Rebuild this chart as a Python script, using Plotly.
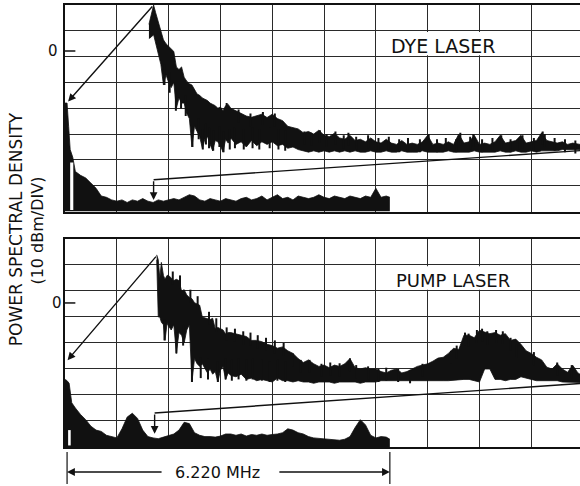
import plotly.graph_objects as go

# ---------------- DATA (in grid divisions) ----------------
# Upper panel: dye laser, wide-span trace (band envelope)
dye_wide_x = [1.62, 1.66, 1.71, 1.75, 1.80, 1.85, 1.90, 1.95, 2.00, 2.05, 2.10, 2.15, 2.20, 2.25,
              2.30, 2.35, 2.40, 2.45, 2.50, 2.55, 2.60, 2.65, 2.70, 2.75, 2.80, 2.85, 2.90, 2.95,
              3.00, 3.05, 3.10, 3.15, 3.20, 3.30, 3.40, 3.50, 3.60, 3.70, 3.80, 3.90, 4.00, 4.10,
              4.20, 4.30, 4.40, 4.50, 4.60, 4.70, 4.80, 4.90, 5.00, 5.10, 5.20, 5.30, 5.40, 5.50,
              5.60, 5.70, 5.80, 5.90, 6.00, 6.10, 6.20, 6.30, 6.40, 6.50, 6.60, 6.70, 6.80, 6.90,
              7.00, 7.10, 7.20, 7.30, 7.40, 7.50, 7.60, 7.70, 7.80, 7.90, 8.00, 8.10, 8.20, 8.30,
              8.40, 8.50, 8.60, 8.70, 8.80, 8.90, 9.00, 9.10, 9.20, 9.30, 9.40, 9.50, 9.60, 9.70,
              9.80, 9.90, 9.94]
dye_wide_top = [7.25, 7.60, 8.00, 7.70, 7.35, 7.10, 6.65, 6.50, 6.40, 6.30, 6.20, 5.60, 5.50, 5.60,
                5.20, 5.05, 4.95, 4.90, 4.70, 4.55, 4.50, 4.40, 4.35, 4.30, 4.20, 4.15, 4.10, 4.00,
                4.05, 3.90, 4.10, 4.15, 4.00, 3.90, 3.80, 3.70, 3.65, 3.70, 3.77, 3.64, 3.77, 3.60,
                3.52, 3.30, 3.26, 3.20, 3.05, 3.10, 3.00, 3.15, 2.95, 2.90, 3.03, 2.85, 2.80, 2.95,
                2.75, 2.80, 2.70, 2.85, 2.70, 2.65, 2.80, 2.65, 2.60, 2.75, 2.60, 2.65, 2.60, 2.70,
                2.95, 2.60, 2.65, 2.60, 2.70, 2.60, 3.00, 2.65, 2.70, 2.95, 2.60, 2.65, 2.60, 2.70,
                2.95, 2.65, 2.70, 2.75, 2.95, 2.65, 2.70, 2.75, 3.05, 2.75, 2.70, 2.65, 2.70, 2.60,
                2.65, 2.60, 2.60]
dye_wide_bot = [6.70, 6.75, 6.85, 6.50, 6.10, 5.70, 4.90, 5.30, 5.00, 4.80, 5.00, 4.00, 4.40, 4.20,
                4.20, 3.80, 3.60, 2.50, 3.30, 3.10, 2.90, 2.45, 2.80, 2.90, 2.60, 2.35, 2.75, 2.70,
                2.55, 2.30, 2.80, 2.65, 2.85, 2.60, 2.70, 2.50, 2.75, 2.55, 2.70, 2.60, 2.70, 2.55,
                2.60, 2.45, 2.50, 2.40, 2.35, 2.30, 2.35, 2.30, 2.35, 2.30, 2.35, 2.30, 2.35, 2.30,
                2.35, 2.30, 2.30, 2.35, 2.30, 2.30, 2.35, 2.30, 2.30, 2.35, 2.30, 2.30, 2.30, 2.35,
                2.30, 2.30, 2.30, 2.30, 2.35, 2.30, 2.30, 2.30, 2.30, 2.35, 2.30, 2.30, 2.30, 2.30,
                2.35, 2.30, 2.30, 2.35, 2.30, 2.30, 2.35, 2.30, 2.35, 2.35, 2.35, 2.35, 2.40, 2.40,
                2.40, 2.40, 2.40]
# noise spikes on the dye wide trace: upward tips and downward tips
dye_up_x = [3.12, 3.35, 3.58, 3.82, 4.05, 4.62, 4.75, 4.92, 5.05, 5.22, 5.38, 5.47, 5.62, 5.85,
            6.05, 6.25, 6.45, 6.62, 6.85, 7.02, 7.18, 7.35, 7.55, 7.63, 7.82, 7.88, 8.05, 8.25,
            8.42, 8.60, 8.78, 8.83, 9.05, 9.22, 9.26, 9.45, 9.65, 9.85]
dye_up_tip = [4.20, 3.95, 3.80, 3.85, 3.80, 3.10, 3.05, 3.15, 3.00, 3.10, 2.95, 3.05, 2.90, 2.95,
              2.85, 2.90, 2.80, 2.85, 2.80, 3.00, 2.80, 2.85, 2.80, 3.05, 2.90, 3.00, 2.80, 2.85,
              2.95, 2.80, 2.90, 2.95, 2.85, 3.10, 3.00, 2.85, 2.80, 2.75]
dye_dn_x = [1.92, 2.02, 2.14, 2.24, 2.33, 2.46, 2.58, 2.66, 2.72, 2.78, 2.86, 2.98, 3.06, 3.18,
            3.28, 3.45, 3.62, 3.75, 3.95, 4.12, 4.25]
dye_dn_tip = [4.90, 4.60, 3.90, 4.00, 3.70, 2.50, 2.80, 2.40, 2.60, 2.45, 2.35, 2.50, 2.30, 2.40,
              2.45, 2.40, 2.45, 2.40, 2.45, 2.40, 2.35]

# Upper panel: dye laser, expanded (narrow-span) trace, filled to the baseline
dye_narrow_x = [0.00, 0.04, 0.07, 0.10, 0.15, 0.20, 0.30, 0.40, 0.50, 0.60, 0.70, 0.80, 0.90,
                1.00, 1.10, 1.20, 1.30, 1.40, 1.50, 1.60, 1.70, 1.80, 1.90, 2.00, 2.10, 2.20,
                2.30, 2.40, 2.50, 2.60, 2.70, 2.80, 2.90, 3.00, 3.10, 3.20, 3.30, 3.40, 3.50,
                3.60, 3.70, 3.80, 3.90, 4.00, 4.10, 4.20, 4.30, 4.40, 4.50, 4.60, 4.70, 4.80,
                4.90, 5.00, 5.10, 5.20, 5.30, 5.40, 5.50, 5.60, 5.70, 5.80, 5.90, 6.00, 6.10,
                6.20, 6.27]
dye_narrow_y = [4.20, 4.20, 3.30, 2.40, 2.10, 1.55, 1.40, 1.30, 1.10, 0.90, 0.60, 0.55, 0.45,
                0.40, 0.45, 0.35, 0.45, 0.40, 0.50, 0.40, 0.35, 0.45, 0.40, 0.45, 0.50, 0.45,
                0.55, 0.65, 0.60, 0.45, 0.40, 0.50, 0.45, 0.40, 0.50, 0.45, 0.40, 0.50, 0.55,
                0.45, 0.50, 0.60, 0.45, 0.55, 0.65, 0.50, 0.55, 0.45, 0.60, 0.55, 0.50, 0.55,
                0.65, 0.55, 0.50, 0.60, 0.55, 0.50, 0.60, 0.55, 0.50, 0.60, 0.55, 0.90, 0.55,
                0.60, 0.55]

# Lower panel: pump laser, wide-span trace (band envelope)
pump_wide_x = [1.77, 1.80, 1.83, 1.86, 1.90, 1.93, 1.97, 2.00, 2.05, 2.10, 2.15, 2.20, 2.25, 2.30,
               2.35, 2.40, 2.45, 2.50, 2.55, 2.60, 2.65, 2.70, 2.75, 2.80, 2.85, 2.90, 2.95, 3.00,
               3.05, 3.10, 3.15, 3.20, 3.30, 3.40, 3.50, 3.60, 3.70, 3.80, 3.90, 4.00, 4.10, 4.20,
               4.30, 4.40, 4.50, 4.60, 4.70, 4.80, 4.90, 5.00, 5.10, 5.20, 5.30, 5.40, 5.50, 5.60,
               5.70, 5.80, 5.90, 6.00, 6.10, 6.20, 6.30, 6.40, 6.50, 6.60, 6.70, 6.80, 6.90, 7.00,
               7.10, 7.20, 7.30, 7.40, 7.50, 7.60, 7.70, 7.80, 7.90, 8.00, 8.10, 8.20, 8.30, 8.40,
               8.50, 8.60, 8.70, 8.80, 8.90, 9.00, 9.10, 9.20, 9.30, 9.40, 9.50, 9.60, 9.70, 9.80,
               9.90, 9.94]
pump_wide_top = [7.39, 7.20, 6.50, 7.10, 6.60, 6.45, 6.60, 6.60, 6.50, 6.40, 6.45, 6.40, 6.00, 6.05,
                 5.85, 5.75, 5.70, 5.55, 5.50, 5.45, 5.00, 4.97, 4.95, 4.90, 4.95, 4.55, 4.60, 4.55,
                 4.50, 4.35, 4.40, 4.40, 4.35, 4.30, 4.25, 4.10, 4.10, 4.05, 3.95, 3.90, 3.80, 3.85,
                 3.70, 3.60, 3.40, 3.25, 3.35, 3.20, 3.10, 3.15, 3.05, 3.15, 3.10, 3.20, 3.40, 3.05,
                 3.00, 3.05, 3.00, 3.00, 2.90, 2.85, 2.95, 3.00, 2.85, 2.90, 3.00, 3.10, 3.15, 3.20,
                 3.30, 3.42, 3.45, 3.60, 3.80, 3.75, 4.30, 4.30, 4.20, 4.49, 4.42, 4.36, 4.40, 4.30,
                 4.36, 4.10, 4.15, 3.95, 3.70, 3.60, 3.45, 3.35, 3.07, 3.00, 3.20, 3.00, 2.87, 3.14,
                 2.85, 2.80]
pump_wide_bot = [7.20, 5.00, 5.00, 4.80, 4.70, 4.10, 4.75, 4.65, 4.50, 4.70, 3.60, 4.40, 4.30, 4.00,
                 4.50, 4.70, 2.50, 3.40, 3.20, 3.10, 3.20, 3.00, 2.85, 3.00, 2.80, 2.90, 2.50, 2.95,
                 3.10, 2.60, 2.85, 2.75, 2.70, 2.80, 2.60, 2.65, 2.55, 2.60, 2.55, 2.50, 2.65, 2.55,
                 2.55, 2.50, 2.55, 2.50, 2.50, 2.45, 2.50, 2.50, 2.50, 2.45, 2.50, 2.50, 2.50, 2.50,
                 2.45, 2.50, 2.50, 2.50, 2.55, 2.55, 2.55, 2.55, 2.55, 2.55, 2.55, 2.55, 2.55, 2.55,
                 2.55, 2.55, 2.55, 2.55, 2.55, 2.58, 2.60, 2.60, 2.55, 2.50, 3.00, 3.00, 2.60, 2.60,
                 2.55, 2.60, 2.60, 2.70, 2.65, 2.60, 2.55, 2.55, 2.55, 2.55, 2.55, 2.50, 2.50, 2.50,
                 2.48, 2.48]
pump_up_x = [2.08, 2.22, 2.42, 2.56, 2.78, 2.92, 3.12, 3.28, 3.44, 3.58, 3.72, 3.88, 4.05, 4.22,
             4.40, 4.55, 4.72, 4.95, 5.12, 5.30, 5.50, 5.62, 5.85, 6.05, 6.20, 6.43, 6.66, 6.90,
             7.45, 7.56, 7.72, 7.79, 7.95, 8.05, 8.15, 8.32, 8.45, 8.60, 8.72, 9.05, 9.50, 9.78]
pump_up_tip = [6.75, 6.60, 6.05, 5.80, 5.20, 4.95, 4.60, 4.55, 4.45, 4.40, 4.30, 4.20, 4.10, 4.00,
               3.60, 3.35, 3.35, 3.20, 3.25, 3.22, 3.41, 3.15, 3.10, 3.00, 3.05, 3.00, 2.95, 3.20,
               3.70, 3.90, 4.40, 4.36, 4.50, 4.55, 4.45, 4.50, 4.45, 4.20, 3.95, 3.65, 3.25, 3.15]
pump_dn_x = [1.92, 2.15, 2.28, 2.45, 2.62, 2.76, 2.95, 3.10, 3.22, 3.35, 3.50, 3.62, 3.80, 3.95,
             4.10, 4.25]
pump_dn_tip = [4.10, 3.60, 3.90, 2.50, 2.65, 2.60, 2.50, 2.60, 2.55, 2.60, 2.55, 2.60, 2.55, 2.50,
               2.55, 2.50]

# Lower panel: pump laser, expanded (narrow-span) trace, filled to the baseline
pump_narrow_x = [0.00, 0.04, 0.08, 0.13, 0.20, 0.30, 0.40, 0.50, 0.60, 0.70, 0.80, 0.90, 1.00,
                 1.10, 1.20, 1.30, 1.40, 1.50, 1.60, 1.70, 1.80, 1.90, 2.00, 2.10, 2.20, 2.30,
                 2.40, 2.50, 2.60, 2.70, 2.80, 2.90, 3.00, 3.10, 3.20, 3.30, 3.40, 3.50, 3.60,
                 3.70, 3.80, 3.90, 4.00, 4.10, 4.20, 4.30, 4.40, 4.50, 4.60, 4.70, 4.80, 4.90,
                 5.00, 5.10, 5.20, 5.30, 5.40, 5.50, 5.60, 5.70, 5.80, 5.90, 6.00, 6.10, 6.20,
                 6.27]
pump_narrow_y = [2.60, 2.55, 2.45, 1.70, 1.50, 1.25, 1.05, 0.80, 0.65, 0.60, 0.45, 0.40, 0.35,
                 0.70, 1.15, 1.30, 1.10, 0.65, 0.40, 0.35, 0.32, 0.38, 0.45, 0.50, 0.65, 0.95,
                 0.90, 0.55, 0.45, 0.40, 0.40, 0.38, 0.42, 0.50, 0.50, 0.45, 0.50, 0.42, 0.48,
                 0.45, 0.50, 0.45, 0.48, 0.50, 0.55, 0.70, 0.65, 0.55, 0.50, 0.40, 0.35, 0.33,
                 0.32, 0.30, 0.28, 0.26, 0.30, 0.40, 0.75, 1.05, 0.85, 0.45, 0.35, 0.40, 0.38,
                 0.30]

panel_titles = ["DYE LASER", "PUMP LASER"]
ref_level_label = "0"
span_label = "6.220 MHz"
axis_title = "POWER SPECTRAL DENSITY"
axis_units = "(10 dBm/DIV)"

# ---------------- FIGURE ----------------
INK = "#111111"
GRID = "#2a2a2a"
FONT = "DejaVu Sans"
XMAX = 9.94

fig = go.Figure()


def band(x, top, bot, xa, ya):
    return go.Scatter(x=x + x[::-1], y=top + bot[::-1], mode="lines", fill="toself",
                      fillcolor=INK, line=dict(color=INK, width=0.8),
                      hoverinfo="skip", showlegend=False, xaxis=xa, yaxis=ya)


def floor_fill(x, y, xa, ya):
    return go.Scatter(x=x, y=y, mode="lines", fill="tozeroy", fillcolor=INK,
                      line=dict(color=INK, width=0.8), hoverinfo="skip",
                      showlegend=False, xaxis=xa, yaxis=ya)


def spikes(xs, tips, reach, xa, ya):
    # short vertical strokes from each tip back into the band
    px, py = [], []
    for xv, tv in zip(xs, tips):
        px += [xv, xv, None]
        py += [tv, tv + reach, None]
    return go.Scatter(x=px, y=py, mode="lines", line=dict(color=INK, width=2),
                      hoverinfo="skip", showlegend=False, xaxis=xa, yaxis=ya)


fig.add_trace(band(dye_wide_x, dye_wide_top, dye_wide_bot, "x", "y"))
fig.add_trace(spikes(dye_up_x, dye_up_tip, -0.5, "x", "y"))
fig.add_trace(spikes(dye_dn_x, dye_dn_tip, 0.8, "x", "y"))
fig.add_trace(floor_fill(dye_narrow_x, dye_narrow_y, "x", "y"))
fig.add_trace(band(pump_wide_x, pump_wide_top, pump_wide_bot, "x2", "y2"))
fig.add_trace(spikes(pump_up_x, pump_up_tip, -0.5, "x2", "y2"))
fig.add_trace(spikes(pump_dn_x, pump_dn_tip, 0.8, "x2", "y2"))
fig.add_trace(floor_fill(pump_narrow_x, pump_narrow_y, "x2", "y2"))

axis_common = dict(showticklabels=False, ticks="", showgrid=True, gridcolor=GRID,
                   gridwidth=1, zeroline=False, showline=True, linecolor=INK,
                   fixedrange=True)

fig.update_layout(
    width=580, height=486,
    margin=dict(l=65, r=0, t=5, b=39),
    paper_bgcolor="white", plot_bgcolor="white",
    showlegend=False,
    xaxis=dict(domain=[0, 1], range=[0, XMAX], dtick=1, tick0=0, anchor="y",
               mirror=True, linewidth=2, **axis_common),
    yaxis=dict(domain=[0.5328, 1], range=[0, 8], dtick=1, tick0=0, anchor="x",
               linewidth=2, **axis_common),
    xaxis2=dict(domain=[0, 1], range=[0, XMAX], dtick=1, tick0=0, anchor="y2",
                mirror=True, linewidth=2, **axis_common),
    yaxis2=dict(domain=[0, 0.4706], range=[0, 8], dtick=1, tick0=0, anchor="x2",
                linewidth=2, **axis_common),
)

shapes = []
annos = []

# panel titles on white boxes
for xa, ya, title, cx, fs in [("x", "y", panel_titles[0], 7.3, 19),
                              ("x2", "y2", panel_titles[1], 7.48, 18)]:
    shapes.append(dict(type="rect", xref=xa, yref=ya, x0=6.1, x1=8.9, y0=6.05, y1=6.95,
                       fillcolor="white", line=dict(width=0), layer="above"))
    annos.append(dict(xref=xa, yref=ya, x=cx, y=6.42, text=title, showarrow=False,
                      font=dict(family=FONT, size=fs, color=INK)))

# white slivers inside the expanded traces
shapes.append(dict(type="rect", xref="x", yref="y", x0=0.10, x1=0.16, y0=0.06, y1=1.9,
                   fillcolor="white", line=dict(width=0), layer="above"))
shapes.append(dict(type="rect", xref="x2", yref="y2", x0=0.06, x1=0.11, y0=0.06, y1=0.65,
                   fillcolor="white", line=dict(width=0), layer="above"))

# reference-level ("0") marks
for xa, ya, yv, px in [("x", "y", 6.22, -0.023), ("x2", "y2", 5.54, -0.016)]:
    shapes.append(dict(type="line", xref=xa, yref=ya, x0=0, x1=0.2, y0=yv, y1=yv,
                       line=dict(color=INK, width=1.5), layer="above"))
    annos.append(dict(xref="paper", yref=ya, x=px, y=yv, xanchor="center",
                      yanchor="middle", text=ref_level_label, showarrow=False,
                      font=dict(family=FONT, size=15, color=INK)))

# arrows linking the wide and expanded traces
links = [("x", "y", (1.71, 8.0), (0.06, 4.26), (9.94, 2.36), (1.71, 1.23), 0.45),
         ("x2", "y2", (1.78, 7.38), (0.05, 3.34), (9.94, 2.44), (1.73, 1.31), 0.51)]
for xa, ya, pk, tip, rend, corner, low in links:
    annos.append(dict(xref=xa, yref=ya, axref=xa, ayref=ya, x=tip[0], y=tip[1],
                      ax=pk[0], ay=pk[1], text="", showarrow=True, arrowhead=2,
                      arrowsize=1.1, arrowwidth=1.4, arrowcolor=INK))
    shapes.append(dict(type="line", xref=xa, yref=ya, x0=rend[0], y0=rend[1],
                       x1=corner[0], y1=corner[1], line=dict(color=INK, width=1.4),
                       layer="above"))
    annos.append(dict(xref=xa, yref=ya, axref=xa, ayref=ya, x=corner[0], y=low,
                      ax=corner[0], ay=corner[1], text="", showarrow=True, arrowhead=2,
                      arrowsize=1.1, arrowwidth=1.4, arrowcolor=INK))

# span marker under the lower panel
span_y = -0.0566
for xv in [0.04, 6.27]:
    shapes.append(dict(type="line", xref="x2", yref="paper", x0=xv, x1=xv,
                       y0=-0.0113, y1=-0.0837, line=dict(color=INK, width=1.2)))
annos.append(dict(xref="x2", yref="paper", x=0.04, y=span_y, ax=96, ay=0, text="",
                  showarrow=True, arrowhead=2, arrowsize=1.2, arrowwidth=1.3,
                  arrowcolor=INK))
annos.append(dict(xref="x2", yref="paper", x=6.27, y=span_y, ax=-112, ay=0, text="",
                  showarrow=True, arrowhead=2, arrowsize=1.2, arrowwidth=1.3,
                  arrowcolor=INK))
annos.append(dict(xref="x2", yref="paper", x=2.95, y=span_y, xanchor="center",
                  yanchor="middle", text=span_label, showarrow=False,
                  font=dict(family=FONT, size=16, color=INK)))

# vertical axis title
annos.append(dict(xref="paper", yref="paper", x=-0.095, y=0.493, xanchor="center",
                  yanchor="middle", text=axis_title, textangle=-90, showarrow=False,
                  font=dict(family=FONT, size=17, color=INK)))
annos.append(dict(xref="paper", yref="paper", x=-0.054, y=0.49, xanchor="center",
                  yanchor="middle", text=axis_units, textangle=-90, showarrow=False,
                  font=dict(family=FONT, size=16, color=INK)))

fig.update_layout(shapes=shapes, annotations=annos)
fig.write_html("out.html", config={"displayModeBar": False},
               post_script="document.body.style.margin='0';document.body.style.padding='0';")
